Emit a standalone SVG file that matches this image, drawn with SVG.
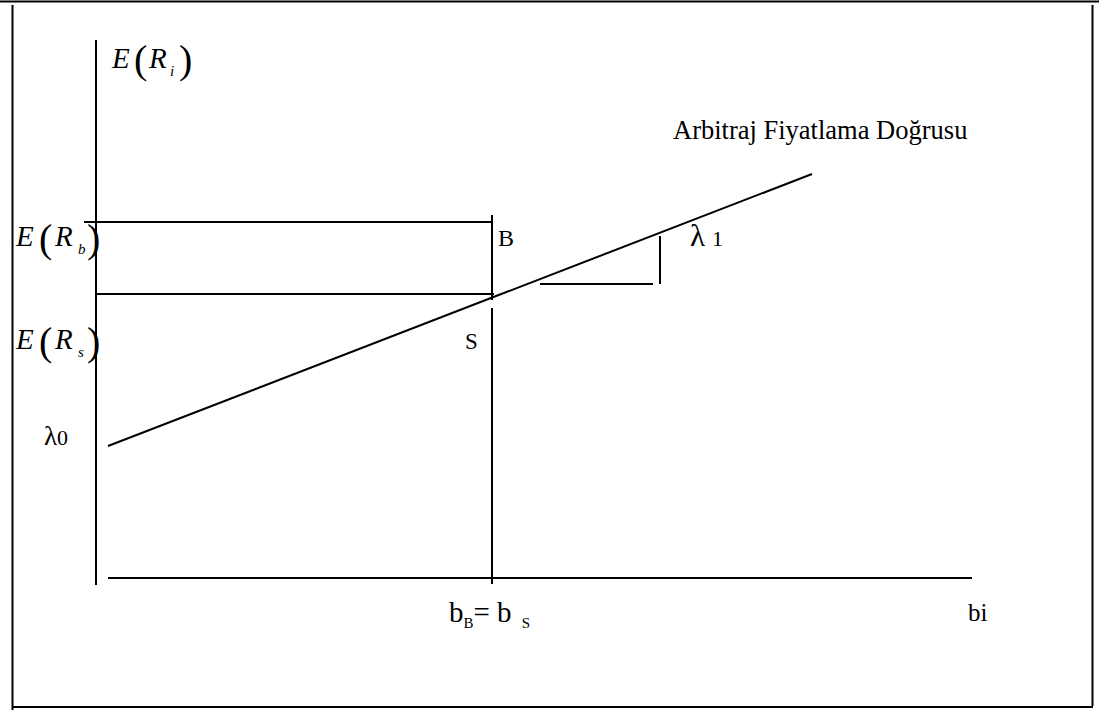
<svg xmlns="http://www.w3.org/2000/svg" width="1099" height="711" viewBox="0 0 1099 711">
<style>
.ln{stroke:#000;stroke-width:2;fill:none}
.t{font-family:"Liberation Serif","Times New Roman",serif;fill:#000}
.it{font-family:"Liberation Serif","Times New Roman",serif;font-style:italic;fill:#000}
</style>
<rect x="0" y="0" width="1099" height="711" fill="#fff"/>
<g id="frame">
<line class="ln" x1="0" y1="1.5" x2="1099" y2="1.5" stroke-width="3"/>
<line class="ln" x1="12.5" y1="5" x2="12.5" y2="710"/>
<line class="ln" x1="12" y1="707" x2="1093" y2="707"/>
<line class="ln" x1="1092.5" y1="5" x2="1092.5" y2="706"/>
</g>
<g id="connectors">
<line class="ln" x1="96" y1="40" x2="96" y2="585"/>
<line class="ln" x1="108" y1="578" x2="972" y2="578"/>
<line class="ln" x1="84" y1="222" x2="492" y2="222"/>
<line class="ln" x1="96" y1="294" x2="494" y2="294"/>
<line class="ln" x1="492" y1="215" x2="492" y2="300"/>
<line class="ln" x1="492" y1="308" x2="492" y2="584"/>
<line class="ln" x1="108" y1="446" x2="812" y2="174"/>
<line class="ln" x1="540" y1="284" x2="653" y2="284"/>
<line class="ln" x1="660" y1="236" x2="660" y2="284"/>
</g>
<g id="label-ERi">
<text class="it" x="112" y="68" font-size="29">E</text>
<text class="t" x="134" y="73" font-size="40">(</text>
<text class="it" x="149" y="68" font-size="29">R</text>
<text class="it" x="170" y="76" font-size="15">i</text>
<text class="t" x="179" y="73" font-size="40">)</text>
</g>
<g id="label-ERb">
<text class="it" x="16" y="246" font-size="29">E</text>
<text class="t" x="39" y="252" font-size="40">(</text>
<text class="it" x="55" y="246" font-size="29">R</text>
<text class="it" x="78" y="254" font-size="15">b</text>
<text class="t" x="87" y="252" font-size="40">)</text>
</g>
<g id="label-ERs">
<text class="it" x="16" y="349" font-size="29">E</text>
<text class="t" x="39" y="355" font-size="40">(</text>
<text class="it" x="55" y="349" font-size="29">R</text>
<text class="it" x="78" y="357" font-size="15">s</text>
<text class="t" x="87" y="355" font-size="40">)</text>
</g>
<g id="label-lambda0">
<text class="t" x="44" y="445" font-size="27">λ<tspan font-size="22">0</tspan></text>
</g>
<g id="label-B"><text class="t" x="498" y="246" font-size="24">B</text></g>
<g id="label-S"><text class="t" x="465" y="349" font-size="23">S</text></g>
<g id="label-lambda1"><text class="t" x="690" y="246" font-size="31">λ<tspan font-size="22" dx="7">1</tspan></text></g>
<g id="label-line"><text class="t" x="673" y="139" font-size="26.5">Arbitraj Fiyatlama Doğrusu</text></g>
<g id="label-bB">
<text class="t" x="449" y="622" font-size="29">b<tspan font-size="15" dy="6">B</tspan><tspan dy="-6">= b</tspan><tspan font-size="15" dx="10" dy="6">S</tspan></text>
</g>
<g id="label-bi"><text class="t" x="968" y="621" font-size="25">bi</text></g>
</svg>
